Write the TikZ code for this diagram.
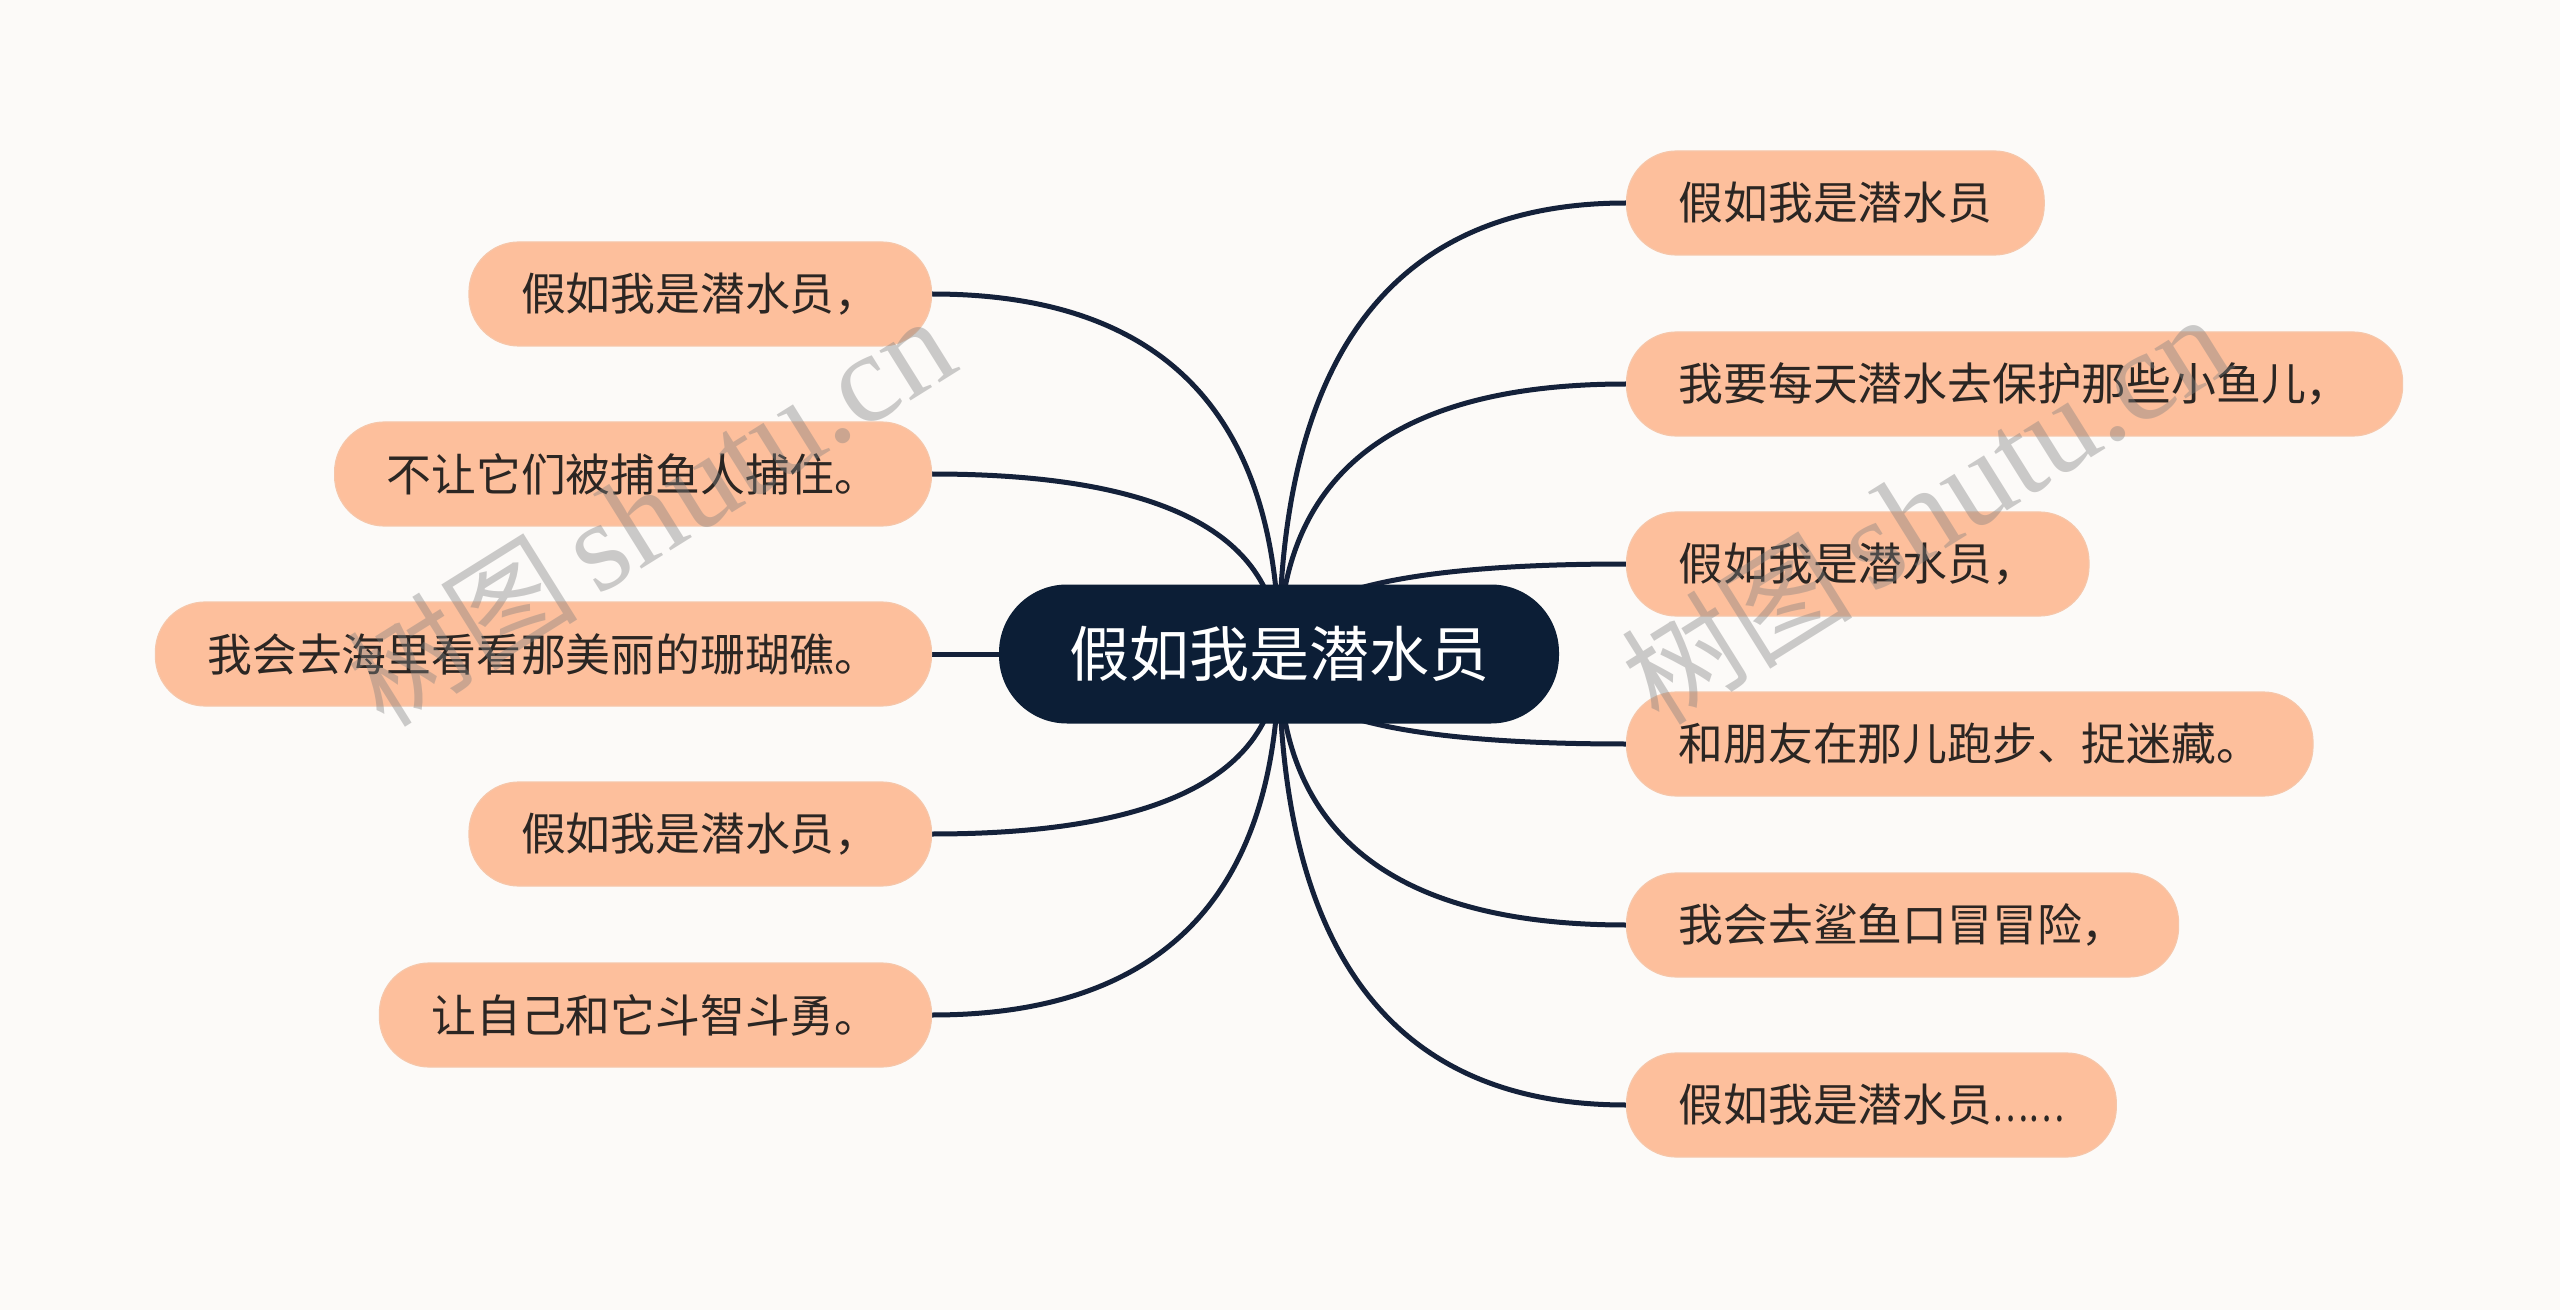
\documentclass[tikz,border=0pt]{standalone}
\usepackage{fontspec}
\setmainfont{Noto Sans CJK SC}
\newfontfamily\wmcjk{Noto Sans CJK SC}
\newfontfamily\wmlatin{Liberation Serif}
\usetikzlibrary{calc,backgrounds}
\definecolor{bgc}{HTML}{FCFAF8}
\definecolor{leaffill}{HTML}{FDBF9C}
\definecolor{leafline}{HTML}{F6C6A9}
\definecolor{leaftext}{HTML}{2B2623}
\definecolor{rootfill}{HTML}{0C1E36}
\definecolor{linec}{HTML}{14213A}
\tikzset{
  leaf/.style={fill=leaffill, draw=leafline, line width=0.6pt, rounded corners=25pt,
    minimum height=52pt, inner xsep=26pt, inner ysep=0pt, text=leaftext,
    font=\fontsize{22.4pt}{26pt}\selectfont},
  rootbox/.style={fill=rootfill, rounded corners=34pt, minimum height=69.5pt,
    minimum width=280pt, inner sep=0pt, text=white,
    font=\fontsize{30pt}{34pt}\selectfont},
  conn/.style={draw=linec, line width=2.5pt},
  wmark/.style={text=gray, opacity=0.4, rotate=32, inner sep=0pt}
}
\begin{document}
\begin{tikzpicture}[x=0.5pt,y=-0.5pt]
\begin{scope}[on background layer]
\fill[bgc] (0,0) rectangle (2560,1310);
\end{scope}
\useasboundingbox (0,0) rectangle (2560,1310);

\node[rootbox] (c) at (1279,654) {假如我是潜水员};

\node[leaf, anchor=east] (l1) at (932,294) {假如我是潜水员，};
\node[leaf, anchor=east] (l2) at (932,474) {不让它们被捕鱼人捕住。};
\node[leaf, anchor=east] (l3) at (932,654) {我会去海里看看那美丽的珊瑚礁。};
\node[leaf, anchor=east] (l4) at (932,834) {假如我是潜水员，};
\node[leaf, anchor=east] (l5) at (932,1015) {让自己和它斗智斗勇。};

\node[leaf, anchor=west] (r1) at (1626,203) {假如我是潜水员};
\node[leaf, anchor=west] (r2) at (1626,384) {我要每天潜水去保护那些小鱼儿，};
\node[leaf, anchor=west] (r3) at (1626,564) {假如我是潜水员，};
\node[leaf, anchor=west] (r4) at (1626,744) {和朋友在那儿跑步、捉迷藏。};
\node[leaf, anchor=west] (r5) at (1626,925) {我会去鲨鱼口冒冒险，};
\node[leaf, anchor=west] (r6) at (1626,1105) {假如我是潜水员\scalebox{0.76}[1]{……}};

\begin{scope}[on background layer]
\foreach \n/\a in {l1/east,l2/east,l4/east,l5/east,r1/west,r2/west,r3/west,r4/west,r5/west,r6/west}{
  \draw[conn] (c.center) .. controls ($(c.center)!0.6667!(c.center|-\n.\a)$)
    and ($(\n.\a)!0.6667!(c.center|-\n.\a)$) .. (\n.\a);
}
\draw[conn] (c.center) -- (l3.east);
\end{scope}

\node[wmark] (w1) at (650,512) {\fontsize{58pt}{60pt}\selectfont\wmcjk 树图\,\wmlatin\fontsize{64pt}{66pt}\selectfont shutu.cn};
\node[wmark] (w2) at (1925,510) {\fontsize{58pt}{60pt}\selectfont\wmcjk 树图\,\wmlatin\fontsize{64pt}{66pt}\selectfont shutu.cn};
\end{tikzpicture}
\end{document}
